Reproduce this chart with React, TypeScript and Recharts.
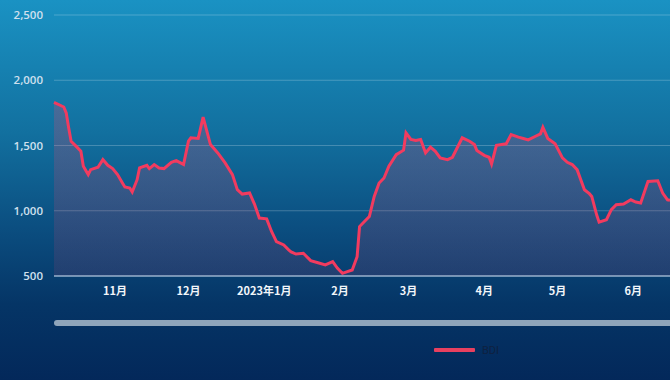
import { ComposedChart, Area, XAxis, YAxis, CartesianGrid } from 'recharts';

const START = '2022-10-07';
const END = '2023-06-16';

const dates = [
  '2022-10-07', '2022-10-11', '2022-10-12', '2022-10-13', '2022-10-14', '2022-10-16', '2022-10-18', '2022-10-19',
  '2022-10-21', '2022-10-22', '2022-10-25', '2022-10-27', '2022-10-29', '2022-10-31', '2022-11-02', '2022-11-04',
  '2022-11-05', '2022-11-07', '2022-11-08', '2022-11-10', '2022-11-11', '2022-11-14', '2022-11-15', '2022-11-17',
  '2022-11-19', '2022-11-21', '2022-11-24', '2022-11-26', '2022-11-27', '2022-11-29', '2022-12-01', '2022-12-02',
  '2022-12-05', '2022-12-07', '2022-12-10', '2022-12-13', '2022-12-16', '2022-12-19', '2022-12-21', '2022-12-23',
  '2022-12-26', '2022-12-28', '2022-12-30', '2023-01-02', '2023-01-04', '2023-01-06', '2023-01-09', '2023-01-11',
  '2023-01-12', '2023-01-14', '2023-01-17', '2023-01-20', '2023-01-23', '2023-01-26', '2023-01-29', '2023-01-31',
  '2023-02-02', '2023-02-04', '2023-02-06', '2023-02-08', '2023-02-09', '2023-02-11', '2023-02-13', '2023-02-15',
  '2023-02-17', '2023-02-19', '2023-02-21', '2023-02-24', '2023-02-27', '2023-02-28', '2023-03-02', '2023-03-04',
  '2023-03-06', '2023-03-08', '2023-03-10', '2023-03-12', '2023-03-14', '2023-03-17', '2023-03-19', '2023-03-23',
  '2023-03-26', '2023-03-28', '2023-03-29', '2023-04-01', '2023-04-03', '2023-04-04', '2023-04-06', '2023-04-10',
  '2023-04-12', '2023-04-15', '2023-04-17', '2023-04-19', '2023-04-22', '2023-04-24', '2023-04-25', '2023-04-27',
  '2023-04-30', '2023-05-03', '2023-05-05', '2023-05-07', '2023-05-09', '2023-05-12', '2023-05-14', '2023-05-15',
  '2023-05-17', '2023-05-18', '2023-05-21', '2023-05-23', '2023-05-25', '2023-05-28', '2023-05-31', '2023-06-02',
  '2023-06-04', '2023-06-07', '2023-06-11', '2023-06-13', '2023-06-15', '2023-06-16',
];

const bdi = [
  1830, 1795, 1750, 1636, 1533, 1495, 1456, 1341,
  1277, 1315, 1333, 1392, 1348, 1323, 1277, 1213,
  1182, 1174, 1144, 1238, 1328, 1348, 1323, 1354,
  1328, 1323, 1371, 1384, 1374, 1354, 1533, 1559,
  1554, 1718, 1507, 1443, 1367, 1277, 1161, 1128,
  1136, 1051, 944, 938, 841, 764, 738, 700,
  685, 668, 674, 618, 602, 585, 610, 559,
  520, 533, 546, 648, 879, 918, 956, 1110,
  1213, 1251, 1341, 1430, 1464, 1597, 1546, 1538,
  1546, 1443, 1487, 1456, 1405, 1392, 1410, 1559,
  1533, 1507, 1461, 1425, 1410, 1359, 1502, 1513,
  1584, 1564, 1554, 1543, 1571, 1589, 1640, 1554,
  1513, 1405, 1371, 1354, 1315, 1161, 1131, 1110,
  969, 913, 931, 1008, 1046, 1051, 1084, 1067,
  1059, 1225, 1230, 1136, 1084, 1080,
];

const monthDates = ['2022-11-01', '2022-12-01', '2023-01-01', '2023-02-01', '2023-03-01', '2023-04-01', '2023-05-01', '2023-06-01'];
const monthLabels = ['11月', '12月', '2023年1月', '2月', '3月', '4月', '5月', '6月'];
const yTicks = [500, 1000, 1500, 2000, 2500];

const DAY = 86400000;
const dayOf = (d: string) => Math.round((Date.parse(d) - Date.parse(START)) / DAY);

const data = dates.map((d, i) => ({ t: dayOf(d), BDI: bdi[i] }));
const monthTicks = monthDates.map(dayOf);

const LINE = '#f23b5f';

export default function App() {
  return (
    <div
      style={{
        position: 'fixed',
        left: 0,
        top: 0,
        width: 670,
        height: 380,
        overflow: 'hidden',
        background: 'linear-gradient(180deg, #1a92c3 0%, #12709f 35%, #0b4e80 60%, #053566 80%, #03285a 100%)',
      }}
    >
      <ComposedChart width={670} height={380} data={data} margin={{ top: 15, right: 0, bottom: 74, left: 0 }}>
        <defs>
          <linearGradient id="bdiFill" x1="0" y1="0" x2="0" y2="1">
            <stop offset="0%" stopColor="#e8466c" stopOpacity={0.42} />
            <stop offset="100%" stopColor="#d84470" stopOpacity={0.2} />
          </linearGradient>
        </defs>
        <CartesianGrid horizontal vertical={false} stroke="rgba(255,255,255,0.22)" />
        <XAxis
          dataKey="t"
          type="number"
          domain={[0, dayOf(END)]}
          ticks={monthTicks}
          tickFormatter={(v: number) => monthLabels[monthTicks.indexOf(v)]}
          interval={0}
          tickLine={false}
          tickSize={0}
          tickMargin={11}
          axisLine={{ stroke: 'rgba(190,210,232,0.7)', strokeWidth: 1.5 }}
          tick={{ fill: '#f2f6fa', fontSize: 11, fontWeight: 700, fontFamily: '"Noto Sans CJK SC", sans-serif' }}
        />
        <YAxis
          domain={[500, 2500]}
          ticks={yTicks}
          width={54}
          axisLine={false}
          tickLine={false}
          tickSize={0}
          tickMargin={11}
          tickFormatter={(v: number) => v.toLocaleString('en-US')}
          tick={{ fill: '#cfe0ee', fontSize: 11.5, fontWeight: 600, fontFamily: '"Open Sans", sans-serif' }}
        />
        <Area
          type="linear"
          dataKey="BDI"
          stroke={LINE}
          strokeWidth={3}
          fill="url(#bdiFill)"
          isAnimationActive={false}
          dot={false}
          activeDot={false}
        />
      </ComposedChart>
      {/* slider track under the axis */}
      <div
        style={{
          position: 'absolute',
          left: 54,
          top: 320,
          width: 630,
          height: 6,
          borderRadius: 3,
          background: '#8fa5bb',
        }}
      />
      {/* legend */}
      <div style={{ position: 'absolute', left: 434, top: 343, display: 'flex', alignItems: 'center', height: 14 }}>
        <span style={{ display: 'inline-block', width: 41, height: 4, background: '#e8405f', borderRadius: 1 }} />
        <span style={{ marginLeft: 7, color: '#0e2140', fontFamily: 'Roboto, sans-serif', fontSize: 11 }}>BDI</span>
      </div>
    </div>
  );
}
